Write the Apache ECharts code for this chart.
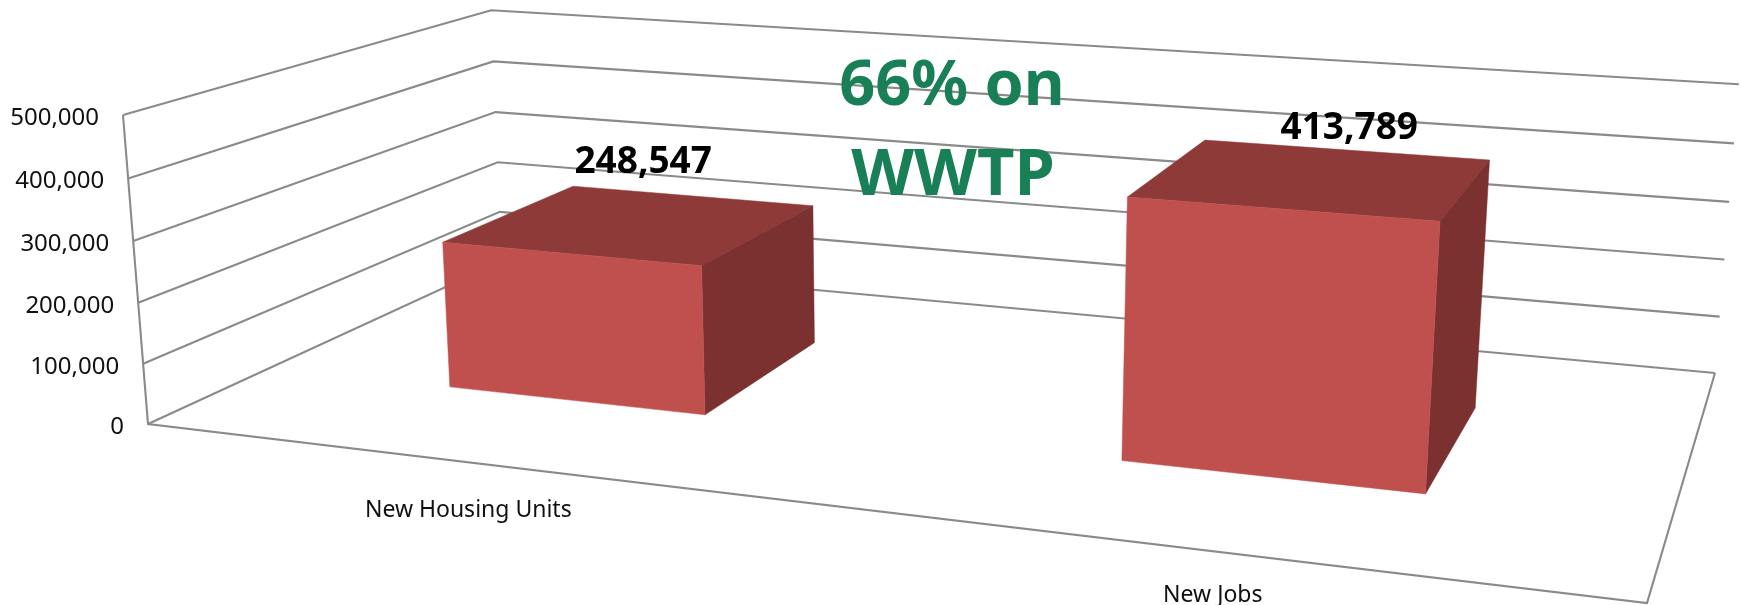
<!DOCTYPE html>
<html>
<head>
<meta charset="utf-8">
<title>chart</title>
<script src="https://cdn.jsdelivr.net/npm/echarts@6/dist/echarts.min.js"></script>
<style>
html, body { margin: 0; padding: 0; background: #fff; }
#chart { width: 1741px; height: 605px; }
</style>
</head>
<body>
<div id="chart"></div>
<script>
const categories = ["New Housing Units", "New Jobs"];
const values = [248547, 413789];
const tickValues = [0, 100000, 200000, 300000, 400000, 500000];
const noteLines = ["66% on", "WWTP"];

// label nudges from the spot they are anchored to, excel puts them a bit unevenly
const valueLabelShift = [[-50, -34], [2, -22]];
const categoryLabelShift = [[-4, 48], [-4, 44]];

// corners of the 3d box as seen in the picture
const A = [148, 424], D = [1647, 603], C = [1715, 373], B = [502, 261];
const topA = [123, 115], topC = [1739, 82];

// bar footprint inside the floor, in 0..1 box units
const barWidth = 0.2, barOffset = -0.0017, depthFront = 0.3, depthBack = 0.7;

const W = 1741, H = 605;
const font = "'Noto Sans', sans-serif";
const lineColor = "#8a8a8a";

function buildCamera() {
    const dx1 = D[0] - C[0], dx2 = B[0] - C[0], sx = A[0] - D[0] + C[0] - B[0];
    const dy1 = D[1] - C[1], dy2 = B[1] - C[1], sy = A[1] - D[1] + C[1] - B[1];
    const den = dx1 * dy2 - dx2 * dy1;
    const g = (sx * dy2 - dx2 * sy) / den;
    const h = (dx1 * sy - sx * dy1) / den;
    const colX = [D[0] - A[0] + g * D[0], D[1] - A[1] + g * D[1], g];
    const colZ = [B[0] - A[0] + h * B[0], B[1] - A[1] + h * B[1], h];
    const col0 = [A[0], A[1], 1];
    const sl = (topA[0] - A[0]) / (topA[1] - A[1]);
    const sr = (topC[0] - C[0]) / (topC[1] - C[1]);
    const vy = (C[0] - sr * C[1] - A[0] + sl * A[1]) / (sl - sr);
    const vx = A[0] + sl * (vy - A[1]);
    const k = (topA[1] - A[1]) / (vy - topA[1]);
    return { colX, colZ, col0, colY: [k * vx, k * vy, k] };
}
const cam = buildCamera();

function project(X, Y, Z) {
    const p = [0, 1, 2].map(i => cam.colX[i] * X + cam.colY[i] * Y + cam.colZ[i] * Z + cam.col0[i]);
    return [p[0] / p[2], p[1] / p[2]];
}

// the hidden grid fills the page, so its pixels turn straight into box units
function unitX(px) { return px / W; }
function unitY(py) { return (H - py) / H; }

function renderWall(params, api) {
    const value = api.value(1);
    const Y = unitY(api.coord([0, value])[1]);
    const edge = project(0, Y, 0);
    const children = [
        {
            type: "polyline",
            shape: { points: [edge, project(0, Y, 1), project(1, Y, 1)] },
            style: { stroke: lineColor, lineWidth: 2.1, fill: null }
        },
        {
            type: "text",
            style: {
                x: edge[0] - 24, y: edge[1] + 3,
                text: echarts.format.addCommas(value),
                font: "24px " + font, fill: "#111",
                align: "right", verticalAlign: "middle"
            }
        }
    ];
    if (value === 0) {
        children.push({
            type: "polyline",
            shape: { points: [project(0, 1, 0), edge, project(1, 0, 0), project(1, 0, 1)] },
            style: { stroke: lineColor, lineWidth: 2.1, fill: null }
        });
    }
    return { type: "group", children };
}

function face(points, color) {
    return {
        type: "polygon",
        shape: { points },
        style: { fill: color, stroke: color, lineWidth: 0.5 }
    };
}

function renderBar(params, api) {
    const i = api.value(0);
    const mid = unitX(api.coord([i, 0])[0]);
    const Y = unitY(api.coord([i, api.value(1)])[1]);
    const x0 = mid + barOffset - barWidth / 2, x1 = mid + barOffset + barWidth / 2;
    const z0 = depthFront, z1 = depthBack;

    const labelAt = project(mid, Y, z1);
    const shift = valueLabelShift[i];
    const catAt = project(mid, 0, 0);
    const catShift = categoryLabelShift[i];
    return {
        type: "group",
        children: [
            face([project(x0, Y, z0), project(x1, Y, z0), project(x1, Y, z1), project(x0, Y, z1)], "#8e3a38"),
            face([project(x1, 0, z0), project(x1, Y, z0), project(x1, Y, z1), project(x1, 0, z1)], "#7b3130"),
            face([project(x0, 0, z0), project(x1, 0, z0), project(x1, Y, z0), project(x0, Y, z0)], "#c0504d"),
            {
                type: "text",
                style: {
                    x: labelAt[0] + shift[0], y: labelAt[1] + shift[1],
                    text: echarts.format.addCommas(api.value(1)),
                    font: "bold 37px " + font, fill: "#000",
                    align: "center", verticalAlign: "middle"
                }
            },
            {
                type: "text",
                style: {
                    x: catAt[0] + catShift[0], y: catAt[1] + catShift[1],
                    text: categories[i],
                    font: "23px " + font, fill: "#111",
                    align: "center", verticalAlign: "middle"
                }
            }
        ]
    };
}

const chart = echarts.init(document.getElementById("chart"), null, { renderer: "canvas" });
chart.setOption({
    animation: false,
    tooltip: { show: false },
    grid: { left: 0, right: 0, top: 0, bottom: 0 },
    xAxis: { type: "category", data: categories, show: false },
    yAxis: { type: "value", min: 0, max: 500000, interval: 100000, show: false },
    series: [
        {
            type: "custom",
            name: "walls",
            silent: true,
            clip: false,
            z: 1,
            renderItem: renderWall,
            data: tickValues.map(v => [0, v])
        },
        {
            type: "custom",
            name: "bars",
            silent: true,
            clip: false,
            z: 2,
            renderItem: renderBar,
            data: values.map((v, i) => [i, v])
        }
    ],
    graphic: [
        {
            type: "text", z: 10, x: 952, y: 87,
            style: { text: noteLines[0], font: "bold 63px " + font, fill: "#187f57", align: "center", verticalAlign: "middle" }
        },
        {
            type: "text", z: 10, x: 953, y: 176,
            style: { text: noteLines[1], font: "bold 65px " + font, fill: "#187f57", align: "center", verticalAlign: "middle" }
        }
    ]
});

window.addEventListener("resize", function () { chart.resize(); });
</script>
</body>
</html>
